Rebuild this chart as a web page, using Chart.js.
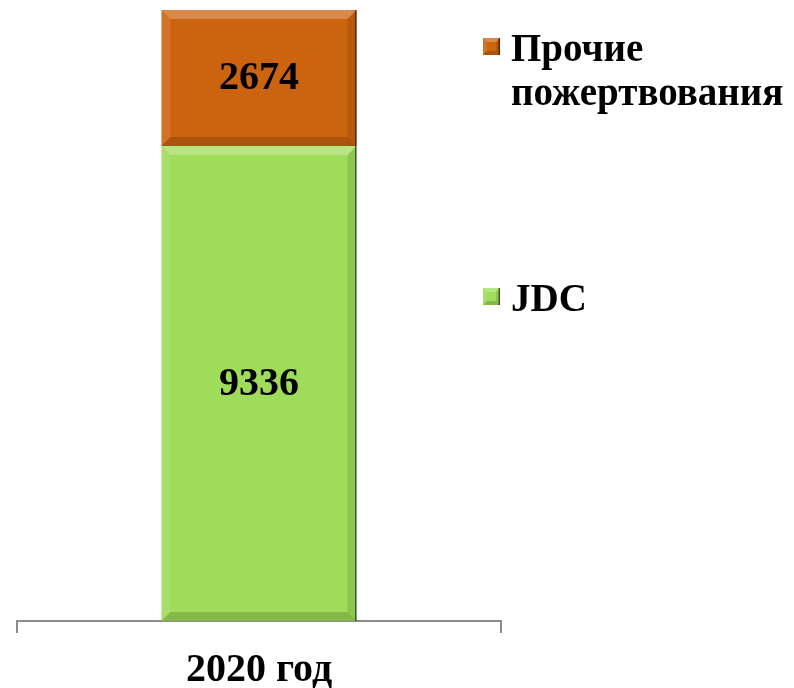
<!DOCTYPE html>
<html>
<head>
<meta charset="utf-8">
<script src="https://cdn.jsdelivr.net/npm/chart.js@4"></script>
<style>
  html, body { margin: 0; padding: 0; background: #fff; }
  #wrap { width: 794px; height: 688px; }
</style>
</head>
<body>
<div id="wrap"><canvas id="bar-chart"></canvas></div>
<script>
var years = ["2020 год"];
var jdcValues = [9336];
var otherValues = [2674];
var seriesNames = ["JDC", "Прочие пожертвования"];
var legendLines = [["Прочие", "пожертвования"], ["JDC"]];
var green = "#9edc5a";
var orange = "#cc630f";
var serif = "'Liberation Serif', 'Times New Roman', serif";

// simple bevel like the office "3D" bar style
function bevelRect(ctx, l, t, r, b, s){
    ctx.save();
    ctx.fillStyle = "rgba(255,255,255,0.25)";
    ctx.beginPath();
    ctx.moveTo(l, t); ctx.lineTo(r, t); ctx.lineTo(r - s, t + s); ctx.lineTo(l + s, t + s);
    ctx.fill();
    ctx.fillStyle = "rgba(255,255,255,0.1)";
    ctx.beginPath();
    ctx.moveTo(l, t); ctx.lineTo(l + s, t + s); ctx.lineTo(l + s, b - s); ctx.lineTo(l, b);
    ctx.fill();
    ctx.fillStyle = "rgba(0,0,0,0.16)";
    ctx.beginPath();
    ctx.moveTo(l, b); ctx.lineTo(l + s, b - s); ctx.lineTo(r - s, b - s); ctx.lineTo(r, b);
    ctx.fill();
    ctx.fillStyle = "rgba(0,0,0,0.1)";
    ctx.beginPath();
    ctx.moveTo(r, t); ctx.lineTo(r, b); ctx.lineTo(r - s, b - s); ctx.lineTo(r - s, t + s);
    ctx.fill();
    ctx.fillStyle = "rgba(0,0,0,0.55)";
    ctx.fillRect(r - 1.5, t, 1.5, b - t);
    ctx.restore();
}

var bevelPlugin = {
    id: "bevel",
    afterDatasetsDraw: function(chart){
        var ctx = chart.ctx;
        chart.data.datasets.forEach(function(ds, i){
            chart.getDatasetMeta(i).data.forEach(function(bar, j){
                var p = bar.getProps(["x", "y", "base", "width"], true);
                var l = p.x - p.width / 2, r = p.x + p.width / 2;
                var t = Math.min(p.y, p.base), b = Math.max(p.y, p.base);
                bevelRect(ctx, l, t, r, b, 9);
                ctx.save();
                ctx.fillStyle = "#000";
                ctx.font = "bold 40px " + serif;
                ctx.textAlign = "center";
                ctx.textBaseline = "middle";
                ctx.fillText(ds.data[j], p.x, (t + b) / 2 + 1);
                ctx.restore();
            });
        });
    }
};

var legendPlugin = {
    id: "sideLegend",
    afterDraw: function(chart){
        var ctx = chart.ctx;
        var items = [
            { color: orange, lines: legendLines[0], top: 38 },
            { color: green, lines: legendLines[1], top: 288 }
        ];
        items.forEach(function(it){
            ctx.save();
            ctx.fillStyle = it.color;
            ctx.fillRect(483, it.top, 17, 17);
            bevelRect(ctx, 483, it.top, 500, it.top + 17, 4);
            ctx.fillStyle = "#000";
            ctx.font = "bold 39px " + serif;
            ctx.textBaseline = "alphabetic";
            it.lines.forEach(function(line, k){
                ctx.fillText(line, 511, it.top + 23 + k * 44);
            });
            ctx.restore();
        });
    }
};

new Chart(document.getElementById("bar-chart"), {
    type: "bar",
    data: {
        labels: years,
        datasets: [{
            label: seriesNames[0],
            data: jdcValues,
            backgroundColor: green,
            barPercentage: 0.403,
            categoryPercentage: 1
        }, {
            label: seriesNames[1],
            data: otherValues,
            backgroundColor: orange,
            barPercentage: 0.403,
            categoryPercentage: 1
        }]
    },
    options: {
        responsive: true,
        maintainAspectRatio: false,
        animation: false,
        layout: { padding: { left: 17, right: 293, top: 10, bottom: 0 } },
        plugins: {
            legend: { display: false },
            tooltip: { enabled: false }
        },
        scales: {
            x: {
                stacked: true,
                border: { display: true, color: "#8c8c8c", width: 2 },
                grid: { display: true, drawOnChartArea: false, drawTicks: true, tickLength: 12, color: "#8c8c8c", lineWidth: 2, offset: true },
                ticks: { display: false, padding: 0 },
                // the single category name sits under the axis like a tick label
                title: {
                    display: true,
                    text: years[0],
                    color: "#000",
                    padding: { top: 22, bottom: 1 },
                    font: { family: serif, size: 40, weight: "bold", lineHeight: 0.8 }
                }
            },
            y: {
                stacked: true,
                display: false,
                min: 0,
                max: jdcValues[0] + otherValues[0]
            }
        }
    },
    plugins: [bevelPlugin, legendPlugin]
});
</script>
</body>
</html>
